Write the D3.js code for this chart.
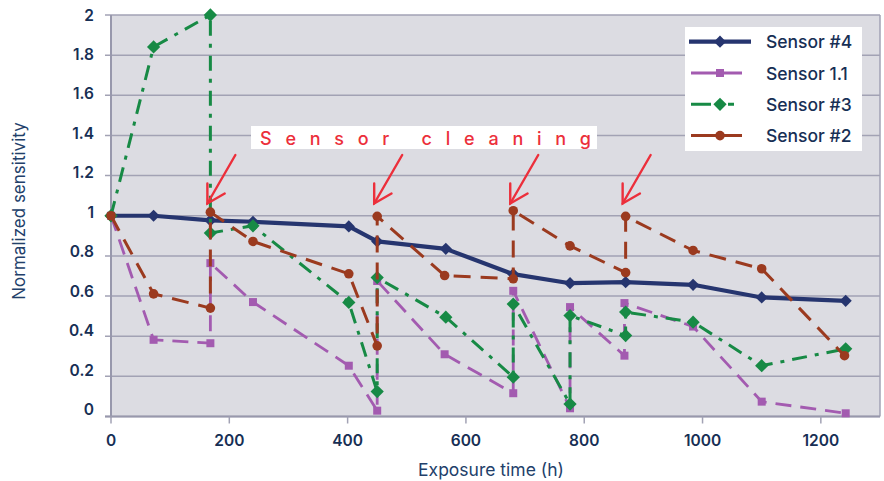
<!DOCTYPE html>
<html>
<head>
<meta charset="utf-8">
<script src="https://cdn.jsdelivr.net/npm/d3@7/dist/d3.min.js"></script>
<style>
  html, body { margin: 0; padding: 0; background: #ffffff; }
  svg { display: block; }
  text { font-family: Inter, "Noto Sans", sans-serif; }
</style>
</head>
<body>
<svg id="chart" width="884" height="481"></svg>
<script>
// ---------------- data ----------------
const xTicks = [0, 200, 400, 600, 800, 1000, 1200];
const yTicks = [0, 0.2, 0.4, 0.6, 0.8, 1, 1.2, 1.4, 1.6, 1.8, 2];
const yTickLabels = ["0", "0.2", "0.4", "0.6", "0.8", "1", "1.2", "1.4", "1.6", "1.8", "2"];

const seriesNames = ["Sensor #4", "Sensor 1.1", "Sensor #3", "Sensor #2"];

const hours4 = [0, 72, 168, 240, 402, 450, 566, 680, 776, 870, 984, 1100, 1242];
const sensor4 = [1, 1, 0.977, 0.97, 0.947, 0.872, 0.835, 0.709, 0.664, 0.669, 0.656, 0.593, 0.576];

const hours11 = [0, 72, 168, 168, 240, 402, 450, 450, 564, 680, 680, 776, 776, 868, 868, 984, 1100, 1242];
const sensor11 = [1, 0.382, 0.365, 0.764, 0.57, 0.253, 0.029, 0.675, 0.31, 0.116, 0.626, 0.041, 0.545, 0.303, 0.565, 0.448, 0.074, 0.016];

const hours3 = [0, 72, 168, 168, 240, 402, 450, 450, 566, 680, 680, 776, 776, 870, 870, 984, 1100, 1242];
const sensor3 = [1, 1.841, 2.0, 0.914, 0.95, 0.568, 0.124, 0.692, 0.495, 0.196, 0.56, 0.062, 0.503, 0.403, 0.52, 0.47, 0.253, 0.337];

const hours2 = [0, 72, 168, 168, 240, 402, 450, 450, 564, 680, 680, 776, 870, 870, 984, 1100, 1240];
const sensor2 = [1, 0.611, 0.54, 1.018, 0.872, 0.711, 0.352, 0.997, 0.702, 0.686, 1.025, 0.85, 0.717, 0.997, 0.827, 0.736, 0.303];

const cleaningTimes = [168, 450, 680, 870];
const annotationText = "Sensor cleaning";

// ---------------- layout ----------------
const svg = d3.select("#chart");
const pL = 111, pR = 880, pT = 15, pB = 416.5;
const x = d3.scaleLinear().domain([0, 1300]).range([pL, pR]);
const y = d3.scaleLinear().domain([0, 2]).range([pB, pT]);
const yLab = d3.scaleLinear().domain([0, 2]).range([409.5, 15]);

const navy = "#26356f", purple = "#a35bb0", green = "#178a45", brown = "#9b3a1f";
const gridC = "#a2a2b4", bgC = "#dcdce2", textC = "#172f55", red = "#ec2f3b";

// plot background
svg.append("rect").attr("x", pL).attr("y", pT).attr("width", pR - pL).attr("height", pB - pT).attr("fill", bgC);

// gridlines + y ticks
svg.append("g").selectAll("line").data(yTicks).join("line")
  .attr("x1", pL - 6).attr("x2", pR)
  .attr("y1", d => y(d)).attr("y2", d => y(d))
  .attr("stroke", gridC).attr("stroke-width", 1.5);

// borders
svg.append("line").attr("x1", pL).attr("x2", pL).attr("y1", pT).attr("y2", pB + 1).attr("stroke", "#9898ac").attr("stroke-width", 2);
svg.append("line").attr("x1", pR).attr("x2", pR).attr("y1", pT).attr("y2", pB).attr("stroke", gridC).attr("stroke-width", 1.5);
svg.append("line").attr("x1", pL - 6).attr("x2", pR).attr("y1", pB).attr("y2", pB).attr("stroke", "#9898ac").attr("stroke-width", 2);

// x ticks
svg.append("g").selectAll("line").data(xTicks).join("line")
  .attr("x1", d => x(d)).attr("x2", d => x(d))
  .attr("y1", pB).attr("y2", pB + 7)
  .attr("stroke", gridC).attr("stroke-width", 1.5);

// tick labels
svg.append("g").selectAll("text").data(yTicks).join("text")
  .attr("x", 94).attr("y", d => yLab(d))
  .attr("text-anchor", "end").attr("dominant-baseline", "central")
  .attr("font-size", 15.5).attr("font-weight", 600).attr("fill", textC)
  .text((d, i) => yTickLabels[i]);

svg.append("g").selectAll("text").data(xTicks).join("text")
  .attr("x", d => x(d)).attr("y", 440)
  .attr("text-anchor", "middle").attr("dominant-baseline", "central")
  .attr("font-size", 15.5).attr("font-weight", 600).attr("fill", textC)
  .text(d => d);

// axis titles
svg.append("text").attr("x", 491).attr("y", 469)
  .attr("text-anchor", "middle").attr("dominant-baseline", "central")
  .attr("font-size", 17.5).attr("fill", "#22406a").text("Exposure time (h)");
svg.append("text").attr("transform", "translate(19,211) rotate(-90)")
  .attr("text-anchor", "middle").attr("dominant-baseline", "central")
  .attr("font-size", 17).attr("fill", "#22406a").text("Normalized sensitivity");

// ---------------- series ----------------
const line = d3.line().x(d => x(d[0])).y(d => y(d[1]));
const zip = (a, b) => a.map((v, i) => [v, b[i]]);

const series = [
  { name: seriesNames[0], data: zip(hours4, sensor4), color: navy, width: 4.2, dash: null, marker: "diamond", size: 74 },
  { name: seriesNames[1], data: zip(hours11, sensor11), color: purple, width: 2.8, dash: "16,9", marker: "square", size: 64 },
  { name: seriesNames[2], data: zip(hours3, sensor3), color: green, width: 3, dash: "15,8,4,8", marker: "diamond", size: 88 },
  { name: seriesNames[3], data: zip(hours2, sensor2), color: brown, width: 3, dash: "17,10", marker: "circle", size: 72 }
];
const symType = { diamond: d3.symbolSquare, square: d3.symbolSquare, circle: d3.symbolCircle };
const symRot = { diamond: 45, square: 0, circle: 0 };

series.forEach(s => {
  const g = svg.append("g");
  g.append("path").datum(s.data).attr("d", line)
    .attr("fill", "none").attr("stroke", s.color).attr("stroke-width", s.width)
    .attr("stroke-dasharray", s.dash).attr("stroke-linejoin", "round");
  const sym = d3.symbol().type(symType[s.marker]).size(s.size);
  g.selectAll("path.m").data(s.data).join("path").attr("class", "m")
    .attr("transform", d => `translate(${x(d[0])},${y(d[1])}) rotate(${symRot[s.marker]})`)
    .attr("d", sym).attr("fill", s.color);
});

// ---------------- annotation ----------------
svg.append("rect").attr("x", 251).attr("y", 126).attr("width", 346).attr("height", 23).attr("fill", "#ffffff");
svg.append("text").attr("x", 260).attr("y", 145)
  .attr("font-family", "Roboto, Inter, sans-serif")
  .attr("font-size", 18).attr("font-weight", 500).attr("fill", red)
  .attr("textLength", 331).attr("lengthAdjust", "spacing")
  .text(annotationText);

cleaningTimes.forEach(t => {
  const tx = x(t) - 3, ty = 203.5;
  const sx = tx + 28, sy = 155;
  const ang = Math.atan2(sy - ty, sx - tx);
  const L = 20, a = Math.PI / 6;
  const g = svg.append("g").attr("stroke", red).attr("stroke-width", 2.4).attr("stroke-linecap", "round").attr("fill", "none");
  g.append("line").attr("x1", sx).attr("y1", sy).attr("x2", tx).attr("y2", ty);
  g.append("path").attr("d",
    `M${tx + L * Math.cos(ang - a)},${ty + L * Math.sin(ang - a)}L${tx},${ty}L${tx + L * Math.cos(ang + a)},${ty + L * Math.sin(ang + a)}`);
});

// ---------------- legend ----------------
const lg = svg.append("g");
lg.append("rect").attr("x", 685).attr("y", 27).attr("width", 177).attr("height", 124).attr("fill", "#ffffff");
const legendDefs = [
  { s: series[0], x1: 689, x2: 751, dash: null },
  { s: series[1], x1: 691, x2: 742, dash: null },
  { s: series[2], x1: 691, x2: 746, dash: "20,17,6,20" },
  { s: series[3], x1: 691, x2: 742, dash: null }
];
legendDefs.forEach((ld, i) => {
  const cy = 41.7 + i * 31.3;
  lg.append("line").attr("x1", ld.x1).attr("x2", ld.x2).attr("y1", cy).attr("y2", cy)
    .attr("stroke", ld.s.color).attr("stroke-width", ld.s.width).attr("stroke-dasharray", ld.dash);
  lg.append("path").attr("transform", `translate(720,${cy}) rotate(${symRot[ld.s.marker]})`)
    .attr("d", d3.symbol().type(symType[ld.s.marker]).size(ld.s.size)).attr("fill", ld.s.color);
  lg.append("text").attr("x", 766).attr("y", cy).attr("dominant-baseline", "central")
    .attr("font-size", 17.5).attr("font-weight", 500).attr("fill", textC).text(ld.s.name);
});
</script>
</body>
</html>
